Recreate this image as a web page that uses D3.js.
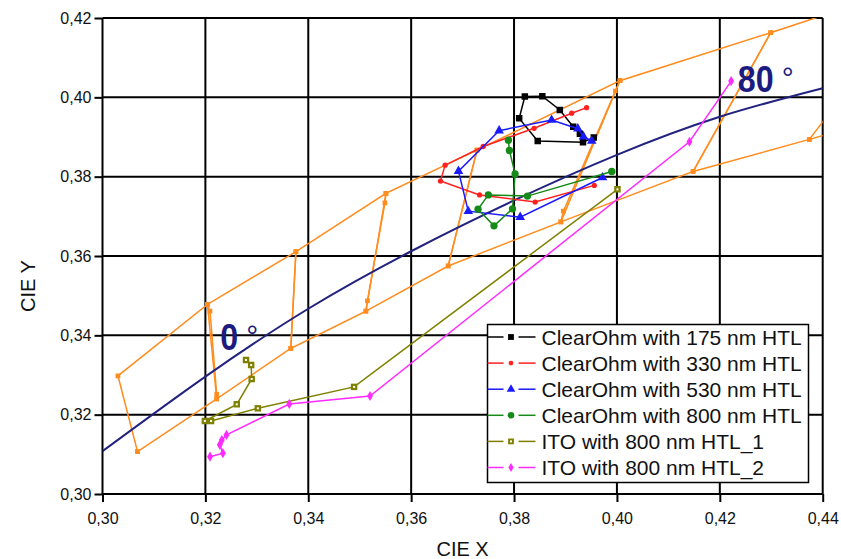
<!DOCTYPE html>
<html>
<head>
<meta charset="utf-8">
<script src="https://cdn.jsdelivr.net/npm/d3@7"></script>
<style>
  body { margin: 0; background: #fff; }
  text { font-family: "Liberation Sans", Arial, sans-serif; }
</style>
</head>
<body>
<div id="chart"></div>
<script>
// ---------- DATA ----------
var xTicks = [0.30, 0.32, 0.34, 0.36, 0.38, 0.40, 0.42, 0.44];
var yTicks = [0.30, 0.32, 0.34, 0.36, 0.38, 0.40, 0.42];

var seriesNames = [
  "ClearOhm with 175 nm HTL",
  "ClearOhm with 330 nm HTL",
  "ClearOhm with 530 nm HTL",
  "ClearOhm with 800 nm HTL",
  "ITO with 800 nm HTL_1",
  "ITO with 800 nm HTL_2"
];

// CIE x,y pairs, 0..80 degrees
var clear175 = [[0.3955,0.3899],[0.3934,0.3887],[0.3846,0.3890],[0.3810,0.3947],[0.3821,0.4002],
                [0.3855,0.4003],[0.3889,0.3968],[0.3915,0.3926],[0.3928,0.3908]];
var clear330 = [[0.3941,0.3974],[0.3912,0.3960],[0.3839,0.3922],[0.3740,0.3876],[0.3666,0.3829],
                [0.3657,0.3789],[0.3733,0.3754],[0.3841,0.3736],[0.3956,0.3778]];
var clear530 = [[0.3951,0.3890],[0.3935,0.3901],[0.3924,0.3921],[0.3873,0.3943],[0.3771,0.3916],
                [0.3692,0.3814],[0.3711,0.3713],[0.3812,0.3698],[0.3972,0.3798]];
var clear800 = [[0.3789,0.3892],[0.3791,0.3866],[0.3802,0.3807],[0.3797,0.3719],[0.3761,0.3676],
                [0.3730,0.3718],[0.3750,0.3754],[0.3826,0.3751],[0.3990,0.3813]];
var ito1 = [[0.3279,0.3338],[0.3289,0.3325],[0.3290,0.3290],[0.3261,0.3226],[0.3199,0.3184],
            [0.3211,0.3184],[0.3302,0.3216],[0.3489,0.3270],[0.4001,0.3768]];
var ito2 = [[0.3209,0.3094],[0.3234,0.3103],[0.3228,0.3124],[0.3232,0.3136],[0.3241,0.3149],
            [0.3363,0.3227],[0.3520,0.3247],[0.4141,0.3888],[0.4222,0.4041]];

// tolerance boxes (orange), two passes
var boxA = [[0.3068,0.3107],[0.3030,0.3298],[0.3204,0.3478],[0.3209,0.3461],[0.3222,0.3251],
            [0.3222,0.3240],[0.3366,0.3367],[0.3376,0.3611],[0.3551,0.3758],[0.3549,0.3734],
            [0.3515,0.3487],[0.3512,0.3461],[0.3672,0.3575],[0.3728,0.3867],[0.4006,0.4042],
            [0.3997,0.4016],[0.3896,0.3713],[0.3891,0.3686],[0.4148,0.3813],[0.4299,0.4163],
            [0.4610,0.4296],[0.4374,0.3894],[0.4450,0.3922]];
var boxB = [[0.3068,0.3107],[0.3222,0.3240],[0.3204,0.3478],[0.3376,0.3611],[0.3366,0.3367],
            [0.3512,0.3461],[0.3551,0.3758],[0.3728,0.3867],[0.3672,0.3575],[0.3891,0.3686],
            [0.4006,0.4042],[0.4299,0.4163],[0.4148,0.3813],[0.4374,0.3894]];

// black body curve
var locusX = [0.300, 0.320, 0.340, 0.360, 0.380, 0.400, 0.420, 0.440];
var locusY = [0.3108, 0.3296, 0.3467, 0.3612, 0.3740, 0.3855, 0.3951, 0.4023];

var angleLabels = [{txt: "0", at: [0.3229, 0.3362]}, {txt: "80", at: [0.4235, 0.4014]}];

// ---------- SET-UP SVG ----------
var svgWidth = 841, svgHeight = 559;
var plot = {left: 102.5, right: 822.7, top: 18, bottom: 494};

var svg = d3.select("#chart").append("svg")
  .attr("width", svgWidth)
  .attr("height", svgHeight);

var x = d3.scaleLinear().domain([0.30, 0.44]).range([plot.left, plot.right]);
var y = d3.scaleLinear().domain([0.30, 0.42]).range([plot.bottom, plot.top]);
var fmt = function(d) { return d.toFixed(2).replace(".", ","); };

svg.append("defs").append("clipPath").attr("id", "clip")
  .append("rect")
  .attr("x", plot.left).attr("y", plot.top)
  .attr("width", plot.right - plot.left).attr("height", plot.bottom - plot.top);

// ---------- GRID + AXES ----------
var grid = svg.append("g");
grid.selectAll("line.v").data(xTicks).enter().append("line")
  .attr("x1", d => x(d)).attr("x2", d => x(d))
  .attr("y1", plot.top).attr("y2", plot.bottom)
  .attr("stroke", "#000").attr("stroke-width", 2);
grid.selectAll("line.h").data(yTicks).enter().append("line")
  .attr("y1", d => y(d)).attr("y2", d => y(d))
  .attr("x1", plot.left).attr("x2", plot.right)
  .attr("stroke", "#000").attr("stroke-width", 2);

var xAxis = svg.append("g")
  .attr("transform", `translate(0, ${plot.bottom})`)
  .call(d3.axisBottom(x).tickValues(xTicks).tickFormat(fmt).tickSizeInner(8).tickSizeOuter(0).tickPadding(11));
var yAxis = svg.append("g")
  .attr("transform", `translate(${plot.left}, 0)`)
  .call(d3.axisLeft(y).tickValues(yTicks).tickFormat(fmt).tickSizeInner(8).tickSizeOuter(0).tickPadding(3));

[xAxis, yAxis].forEach(function(g) {
  g.select(".domain").remove();
  g.selectAll("line").attr("stroke-width", 2);
  g.selectAll("text").attr("font-size", "16px").attr("fill", "#111")
    .style("font-family", "'Liberation Sans', Arial, sans-serif");
});

svg.append("text")
  .attr("x", (plot.left + plot.right) / 2).attr("y", 556)
  .attr("text-anchor", "middle").attr("font-size", "20px").attr("fill", "#111")
  .text("CIE X");

svg.append("text")
  .attr("transform", `translate(35, ${(plot.top + plot.bottom) / 2 + 30}) rotate(-90)`)
  .attr("text-anchor", "middle").attr("font-size", "20px").attr("fill", "#111")
  .text("CIE Y");

// ---------- DATA LINES ----------
var chart = svg.append("g").attr("clip-path", "url(#clip)");
var line = d3.line().x(d => x(d[0])).y(d => y(d[1]));

// orange boxes
var orange = "#ff8c1e";
[boxA, boxB].forEach(function(pts) {
  chart.append("path").datum(pts)
    .attr("d", line).attr("fill", "none")
    .attr("stroke", orange).attr("stroke-width", 1.5);
  chart.selectAll(null).data(pts).enter().append("path")
    .attr("d", d3.symbol(d3.symbolSquare, 22))
    .attr("transform", d => `translate(${x(d[0])}, ${y(d[1])})`)
    .attr("fill", orange);
});

// locus
var locus = locusX.map((v, i) => [v, locusY[i]]);
chart.append("path").datum(locus)
  .attr("d", line.curve(d3.curveNatural))
  .attr("fill", "none").attr("stroke", "#22227f").attr("stroke-width", 2);
line.curve(d3.curveLinear);

var seriesStyle = [
  {data: clear175, color: "#000000", sym: d3.symbolSquare, size: 42},
  {data: clear330, color: "#ff2020", sym: d3.symbolCircle, size: 22},
  {data: clear530, color: "#1a1aff", sym: d3.symbolTriangle, size: 40},
  {data: clear800, color: "#168a16", sym: d3.symbolCircle, size: 42},
  {data: ito1, color: "#808000", sym: d3.symbolSquare, size: 42, hollow: true},
  {data: ito2, color: "#ff2bff", sym: d3.symbolDiamond, size: 30}
];

seriesStyle.forEach(function(s) {
  chart.append("path").datum(s.data)
    .attr("d", line).attr("fill", "none")
    .attr("stroke", s.color).attr("stroke-width", 1.5);
  chart.selectAll(null).data(s.data).enter().append("path")
    .attr("d", d3.symbol(s.sym, s.size))
    .attr("transform", d => `translate(${x(d[0])}, ${y(d[1])})`)
    .attr("fill", s.color);
  if (s.hollow) {
    chart.selectAll(null).data(s.data).enter().append("rect")
      .attr("x", d => x(d[0]) - 1).attr("y", d => y(d[1]) - 1)
      .attr("width", 2).attr("height", 2).attr("fill", "#fff");
  }
});

// angle labels
angleLabels.forEach(function(a) {
  var g = svg.append("g")
    .attr("transform", `translate(${x(a.at[0])}, ${y(a.at[1])})`);
  g.append("text")
    .attr("transform", "scale(0.87,1)")
    .attr("font-size", "37px").attr("font-weight", "bold").attr("fill", "#1c1c80")
    .text(a.txt);
  g.append("text")
    .attr("x", a.txt.length * 18 + 8).attr("y", -4)
    .attr("font-size", "30px").attr("fill", "#1c1c80")
    .text("°");
});

// ---------- LEGEND ----------
var legend = svg.append("g").attr("transform", "translate(487.5, 324.5)");
legend.append("rect")
  .attr("width", 321).attr("height", 158)
  .attr("fill", "#fff").attr("stroke", "#000").attr("stroke-width", 1.5);

seriesStyle.forEach(function(s, i) {
  var row = legend.append("g").attr("transform", `translate(0, ${12.5 + i * 26.1})`);
  row.append("line").attr("x1", 0).attr("x2", 16).attr("stroke", s.color).attr("stroke-width", 1.5);
  row.append("line").attr("x1", 31).attr("x2", 48).attr("stroke", s.color).attr("stroke-width", 1.5);
  row.append("path").attr("d", d3.symbol(s.sym, s.size * 0.8))
    .attr("transform", "translate(23.5, 0)").attr("fill", s.color);
  if (s.hollow) {
    row.append("rect").attr("x", 22.5).attr("y", -1).attr("width", 2).attr("height", 2).attr("fill", "#fff");
  }
  row.append("text")
    .attr("x", 54).attr("y", 7.5)
    .attr("font-size", "21px").attr("fill", "#111")
    .text(seriesNames[i]);
});
</script>
</body>
</html>
